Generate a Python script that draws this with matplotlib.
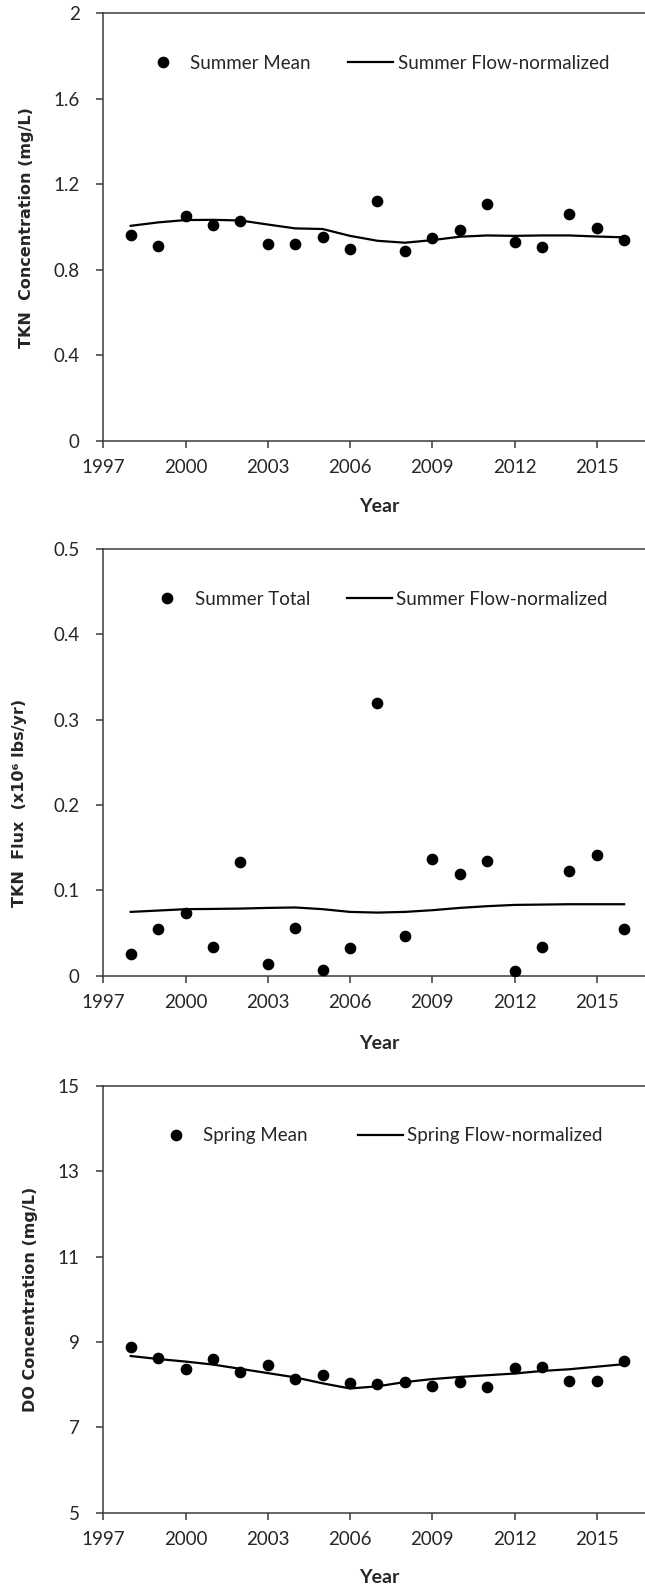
import matplotlib
matplotlib.use("Agg")
import matplotlib.pyplot as plt
import numpy as np

years = list(range(1998, 2017))

tkn_conc_mean = [0.961, 0.913, 1.053, 1.009, 1.028, 0.920, 0.920, 0.953, 0.897, 1.123,
                 0.889, 0.947, 0.988, 1.109, 0.930, 0.906, 1.059, 0.994, 0.939]
tkn_conc_fn = [1.006, 1.022, 1.033, 1.034, 1.031, 1.012, 0.994, 0.991, 0.959, 0.936,
               0.927, 0.939, 0.955, 0.961, 0.959, 0.961, 0.961, 0.956, 0.952]

tkn_flux_total = [0.026, 0.055, 0.074, 0.034, 0.133, 0.014, 0.056, 0.007, 0.032, 0.320,
                  0.046, 0.137, 0.119, 0.135, 0.006, 0.034, 0.123, 0.142, 0.055]
tkn_flux_fn = [0.0748, 0.0764, 0.0780, 0.0783, 0.0787, 0.0795, 0.0800, 0.0780, 0.0748, 0.0740,
               0.0748, 0.0768, 0.0795, 0.0815, 0.0830, 0.0834, 0.0838, 0.0838, 0.0838]

do_mean = [8.87, 8.62, 8.37, 8.59, 8.30, 8.47, 8.13, 8.22, 8.03, 8.02,
           8.05, 7.97, 8.05, 7.94, 8.38, 8.42, 8.09, 8.09, 8.55]
do_fn = [8.67, 8.60, 8.54, 8.47, 8.37, 8.27, 8.17, 8.03, 7.91, 7.96,
         8.06, 8.13, 8.18, 8.22, 8.26, 8.32, 8.36, 8.42, 8.48]

xticks = [1997, 2000, 2003, 2006, 2009, 2012, 2015]

panels = [
    dict(mean=tkn_conc_mean, fn=tkn_conc_fn, ylim=(0, 2),
         yticks=[0, 0.4, 0.8, 1.2, 1.6, 2], yticklabels=["0", "0.4", "0.8", "1.2", "1.6", "2"],
         ylabel="TKN  Concentration (mg/L)", lab_mean="Summer Mean", lab_fn="Summer Flow-normalized",
         rect=[0.1602, 0.7230, 0.8398, 0.2687], leg=(0.0677, 0.883), colsp=2.0, ylab_y=0.5,
         ylab_x=-0.141, year_y=-0.154),
    dict(mean=tkn_flux_total, fn=tkn_flux_fn, ylim=(0, 0.5),
         yticks=[0, 0.1, 0.2, 0.3, 0.4, 0.5], yticklabels=["0", "0.1", "0.2", "0.3", "0.4", "0.5"],
         ylabel="TKN  Flux  (x10\u2076 lbs/yr)", lab_mean="Summer Total", lab_fn="Summer Flow-normalized",
         rect=[0.1602, 0.3871, 0.8398, 0.2680], leg=(0.0768, 0.882), colsp=1.95, ylab_y=0.405,
         ylab_x=-0.154, year_y=-0.158),
    dict(mean=do_mean, fn=do_fn, ylim=(5, 15),
         yticks=[5, 7, 9, 11, 13, 15], yticklabels=["5", "7", "9", "11", "13", "15"],
         ylabel="DO Concentration (mg/L)", lab_mean="Spring Mean", lab_fn="Spring Flow-normalized",
         rect=[0.1602, 0.0498, 0.8398, 0.2682], leg=(0.0927, 0.883), colsp=2.65, ylab_y=0.5,
         ylab_x=-0.135, year_y=-0.151),
]

fig = plt.figure(figsize=(6.45, 15.92), dpi=100)
tick_font = dict(family="Lato", size=13.5)
spine_col = "#3a3a3a"
txt_col = "#262626"

for p in panels:
    ax = fig.add_axes(p["rect"])
    ax.plot(years, p["mean"], ls="none", marker="o", ms=7.4, color="black", label=p["lab_mean"], zorder=3)
    ax.plot(years, p["fn"], color="black", lw=1.6, label=p["lab_fn"], zorder=2)
    ax.set_xlim(1997, 2016.76)
    ax.set_ylim(*p["ylim"])
    ax.set_xticks(xticks)
    ax.set_xticklabels([str(x) for x in xticks], fontdict=tick_font, color=txt_col)
    ax.set_yticks(p["yticks"])
    ax.set_yticklabels(p["yticklabels"], fontdict=tick_font, color=txt_col)
    ax.spines["right"].set_visible(False)
    for s in ["left", "bottom", "top"]:
        ax.spines[s].set_color(spine_col)
        ax.spines[s].set_linewidth(1.1)
    ax.tick_params(direction="out", length=5, width=1.1, color=spine_col, pad=5)
    ax.tick_params(axis="y", pad=12)
    ax.tick_params(axis="x", pad=8)
    ax.set_ylabel(p["ylabel"], family="DejaVu Sans", weight="bold", fontsize=11.5, color=txt_col)
    ax.yaxis.set_label_coords(p["ylab_x"], p["ylab_y"])
    ax.yaxis.label.set_va("center")
    ax.set_xlabel("Year", family="Lato", weight="bold", fontsize=14, color=txt_col)
    ax.xaxis.set_label_coords(0.51, p["year_y"])
    ax.xaxis.label.set_va("center")
    leg = ax.legend(loc="center left", bbox_to_anchor=p["leg"], ncol=2, frameon=False,
                    prop=dict(family="Lato", size=13.5), handlelength=2.4, handletextpad=0.25,
                    columnspacing=p["colsp"], borderaxespad=0, borderpad=0, markerscale=1.0)
    for t in leg.get_texts():
        t.set_color(txt_col)

fig.savefig("out.png", dpi=100)
